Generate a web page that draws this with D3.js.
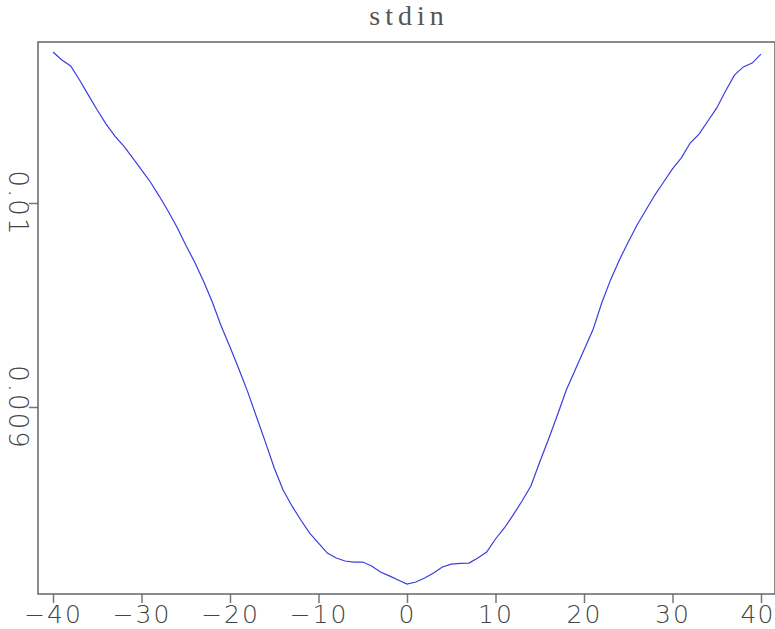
<!DOCTYPE html>
<html>
  <head>
    <meta charset="utf-8">
    <title>stdin</title>
    <script src="https://d3js.org/d3.v7.min.js"></script>
    <style>
      body { margin: 0; background: #fff; }
    </style>
  </head>
  <body>
    <script>
      // Data: one value per offset from -40 to 40
      var offsets = d3.range(-40, 41);
      var values = [
        0.010740, 0.010701, 0.010672, 0.010603, 0.010529, 0.010456, 0.010387, 0.010328,
        0.010279, 0.010221, 0.010162, 0.010103, 0.010034, 0.009961, 0.009882, 0.009794,
        0.009711, 0.009618, 0.009515, 0.009397, 0.009294, 0.009186, 0.009074, 0.008951,
        0.008828, 0.008701, 0.008593, 0.008515, 0.008446, 0.008382, 0.008333, 0.008284,
        0.008260, 0.008245, 0.008240, 0.008240, 0.008221, 0.008191, 0.008172, 0.008152,
        0.008132,
        0.008142, 0.008162, 0.008186, 0.008216, 0.008230, 0.008233, 0.008235, 0.008260,
        0.008289, 0.008353, 0.008407, 0.008471, 0.008539, 0.008613, 0.008730, 0.008843,
        0.008961, 0.009083, 0.009181, 0.009279, 0.009377, 0.009510, 0.009623, 0.009721,
        0.009809, 0.009892, 0.009966, 0.010039, 0.010103, 0.010167, 0.010221, 0.010294,
        0.010338, 0.010402, 0.010466, 0.010549, 0.010627, 0.010667, 0.010686, 0.010730
      ];
      var xTicks = [-40, -30, -20, -10, 0, 10, 20, 30, 40];
      var yTicks = [0.009, 0.01];
      var yTickLabels = ["0.009", "0.01"];

      var width = 775, height = 629;
      var frame = {left: 38, right: 775, top: 42, bottom: 594};

      var svg = d3.select("body")
                  .append("svg")
                  .attr("width", width)
                  .attr("height", height);

      // scales
      var x = d3.scaleLinear()
                .domain([-40, 40])
                .range([53, 761]);
      var y = d3.scaleLinear()
                .domain([0.009, 0.01])
                .range([407, 203]);

      // title
      svg.append("text")
         .attr("x", 409)
         .attr("y", 25)
         .attr("text-anchor", "middle")
         .style("font-family", "Liberation Serif")
         .style("font-size", "28px")
         .style("letter-spacing", "5px")
         .style("fill", "#555")
         .text("stdin");

      // bottom axis
      var xAxis = svg.append("g")
         .attr("transform", "translate(0," + frame.bottom + ")")
         .call(d3.axisBottom(x).tickValues(xTicks).tickSize(9).tickPadding(2)
               .tickFormat(function(d) { return d < 0 ? "\u2212" + Math.abs(d) : d; }));
      xAxis.select(".domain").remove();
      xAxis.selectAll("line").attr("stroke", "#777").attr("stroke-width", 1.5);
      xAxis.selectAll("text")
           .style("font-family", "DejaVu Sans")
           .style("font-size", "25px")
           .style("font-weight", "200")
           .style("letter-spacing", "2px")
           .style("fill", "#444");
      // last label sits against the right edge
      xAxis.selectAll("text")
           .filter(function(d) { return d === 40; })
           .style("letter-spacing", "1px")
           .attr("dx", -4);

      // left axis, labels turned
      var yAxis = svg.append("g")
         .attr("transform", "translate(" + frame.left + ",0)")
         .call(d3.axisLeft(y).tickValues(yTicks).tickSize(9)
               .tickFormat(function(d, i) { return yTickLabels[i]; }));
      yAxis.select(".domain").remove();
      yAxis.selectAll("line").attr("stroke", "#777").attr("stroke-width", 1.5);
      yAxis.selectAll("text")
           .attr("x", 0)
           .attr("dy", 0)
           .attr("text-anchor", "middle")
           .attr("transform", "translate(-29,0) rotate(90)")
           .style("font-family", "DejaVu Sans")
           .style("font-size", "26px")
           .style("font-weight", "200")
           .style("letter-spacing", "2px")
           .style("fill", "#444");

      // frame
      svg.append("rect")
         .attr("x", frame.left)
         .attr("y", frame.top)
         .attr("width", frame.right - frame.left)
         .attr("height", frame.bottom - frame.top)
         .attr("fill", "none")
         .attr("stroke", "#666")
         .attr("stroke-width", 1.5);

      // curve
      var line = d3.line()
                   .x(function(d, i) { return x(offsets[i]); })
                   .y(function(d) { return y(d); });

      svg.append("path")
         .datum(values)
         .attr("fill", "none")
         .attr("stroke", "#3c3ce0")
         .attr("stroke-width", 1.2)
         .attr("d", line);
    </script>
  </body>
</html>
